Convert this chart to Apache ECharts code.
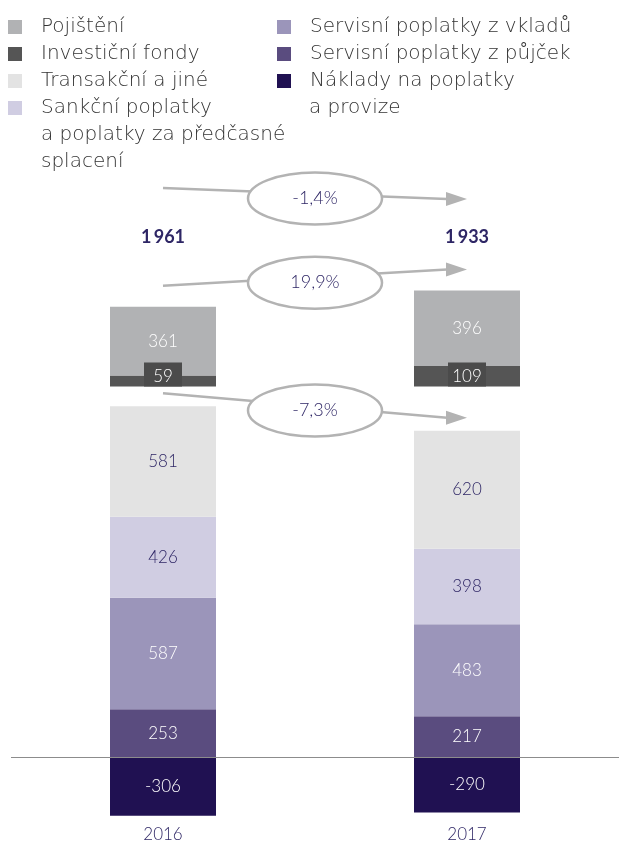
<!DOCTYPE html>
<html>
<head>
<meta charset="utf-8">
<script src="https://cdn.jsdelivr.net/npm/echarts@6/dist/echarts.min.js"></script>
<style>
  html, body { margin: 0; padding: 0; background: #fff; }
  #chart { width: 620px; height: 846px; }
</style>
</head>
<body>
<div id="chart"></div>
<script>
const years = ['2016', '2017'];
// legend names, one entry per printed line
const legendLines = [
  ['Pojištění'],
  ['Investiční fondy'],
  ['Transakční a jiné'],
  ['Sankční poplatky', 'a poplatky za předčasné', 'splacení'],
  ['Servisní poplatky z vkladů'],
  ['Servisní poplatky z půjček'],
  ['Náklady na poplatky', 'a provize']
];
const pojisteni = [361, 396];
const investicniFondy = [59, 109];
const transakcni = [581, 620];
const sankcni = [426, 398];
const servisniVklady = [587, 483];
const servisniPujcky = [253, 217];
const naklady = [-306, -290];
const changeLabels = ['-1,4%', '19,9%', '-7,3%'];
// the insurance / funds block sits on this level
const upperBase = 1950;

const colors = ['#b1b2b4', '#555555', '#e3e3e3', '#d0cde2', '#9b95ba', '#5a4c7f', '#201152'];
const navy = '#2e2665';
const font = 'Lato, "Open Sans", sans-serif';
const legendFont = '"DejaVu Sans", sans-serif';
const legendColor = '#333333';
const names = legendLines.map(l => l.join(' '));

const chart = echarts.init(document.getElementById('chart'));

function barSeries(idx, data, labelColor, extraLabel) {
  return {
    name: names[idx],
    type: 'bar',
    stack: 'total',
    barWidth: 106,
    data: data,
    itemStyle: {color: colors[idx]},
    label: Object.assign({
      show: true,
      position: 'inside',
      color: labelColor,
      fontSize: 17,
      fontWeight: 300,
      fontFamily: font
    }, extraLabel || {})
  };
}

const lowerSum = years.map((_, i) =>
  servisniPujcky[i] + servisniVklady[i] + sankcni[i] + transakcni[i]);
const spacer = years.map((_, i) => upperBase - lowerSum[i]);
const totals = years.map((_, i) =>
  lowerSum[i] + naklady[i] + investicniFondy[i] + pojisteni[i]);

const series = [
  barSeries(6, naklady, '#fff'),
  barSeries(5, servisniPujcky, '#fff'),
  barSeries(4, servisniVklady, '#fff'),
  barSeries(3, sankcni, navy),
  barSeries(2, transakcni, navy),
  {
    name: 'spacer',
    type: 'bar',
    stack: 'total',
    barWidth: 106,
    data: spacer,
    itemStyle: {color: 'transparent'},
    silent: true
  },
  barSeries(1, investicniFondy, '#fff', {
    position: 'insideBottom',
    distance: 0,
    backgroundColor: '#4b4b4b',
    width: 26,
    align: 'center',
    padding: [5, 6, 2, 6]
  }),
  barSeries(0, pojisteni, '#fff')
];

// zero line
series[0].markLine = {
  silent: true,
  symbol: 'none',
  label: {show: false},
  lineStyle: {color: '#8c8c8c', width: 1.2, type: 'solid'},
  data: [{yAxis: 0}]
};

function legendFor(list, left) {
  return {
    left: left,
    top: 17,
    padding: 0,
    orient: 'vertical',
    icon: 'rect',
    itemWidth: 14,
    itemHeight: 14,
    itemGap: 7,
    selectedMode: false,
    data: list,
    formatter: name => legendLines[names.indexOf(name)][0],
    textStyle: {
      fontSize: 20,
      fontWeight: 200,
      fontFamily: legendFont,
      color: legendColor,
      padding: [0, 0, 0, 14]
    }
  };
}

chart.setOption({
  animation: false,
  color: colors,
  grid: {left: 11, right: 1, top: 263, bottom: 22},
  legend: [legendFor(names.slice(0, 4), 8), legendFor(names.slice(4), 277)],
  xAxis: {
    type: 'category',
    data: years,
    axisLine: {show: false, onZero: false},
    axisTick: {show: false},
    axisLabel: {color: navy, fontSize: 17, fontWeight: 300, fontFamily: font, margin: 2}
  },
  yAxis: {
    type: 'value',
    min: -350,
    max: 2600,
    show: false
  },
  series: series
});

// annotations: totals, change arrows, continued legend lines
const xs = years.map(y => chart.convertToPixel({xAxisIndex: 0}, y));
const yOf = v => chart.convertToPixel({yAxisIndex: 0}, v);
const upperTop = years.map((_, i) => yOf(upperBase + investicniFondy[i] + pojisteni[i]));
const lowerTop = lowerSum.map(v => yOf(v));

const rows = [
  [188, 199],
  [upperTop[0] - 21, upperTop[1] - 21],
  [lowerTop[0] - 13, lowerTop[1] - 13]
];

const graphics = [];
const grey = '#b3b3b3';
rows.forEach((r, i) => {
  const cx = (xs[0] + xs[1]) / 2;
  const cy = (r[0] + r[1]) / 2 + 5;
  graphics.push({
    type: 'line', z: 10,
    shape: {x1: xs[0], y1: r[0], x2: xs[1] - 20, y2: r[1]},
    style: {stroke: grey, lineWidth: 2.5}
  });
  graphics.push({
    type: 'polygon', z: 10,
    shape: {points: [[xs[1] - 21, r[1] - 7], [xs[1], r[1]], [xs[1] - 21, r[1] + 7]]},
    style: {fill: grey}
  });
  graphics.push({
    type: 'ellipse', z: 11,
    shape: {cx: cx, cy: cy, rx: 67, ry: 26},
    style: {fill: '#fff', stroke: grey, lineWidth: 2.5}
  });
  graphics.push({
    type: 'text', z: 12, x: cx, y: cy,
    style: {
      text: changeLabels[i], fill: navy, fontSize: 18, fontWeight: 300,
      fontFamily: font, align: 'center', verticalAlign: 'middle'
    }
  });
});

totals.forEach((t, i) => {
  const txt = Math.floor(t / 1000) + '\u2009' + String(t % 1000).padStart(3, '0');
  graphics.push({
    type: 'text', x: xs[i], y: 237,
    style: {
      text: txt, fill: navy, fontSize: 18, fontWeight: 'bold',
      fontFamily: font, align: 'center', verticalAlign: 'middle'
    }
  });
});

legendLines.forEach((lines, idx) => {
  const col = idx < 4 ? 0 : 1;
  const row = col === 0 ? idx : idx - 4;
  lines.slice(1).forEach((line, k) => {
    graphics.push({
      type: 'text',
      x: col === 0 ? 41 : 309,
      y: 27 + 27 * (row + k + 1),
      style: {
        text: line, fill: legendColor, fontSize: 20, fontWeight: 200,
        fontFamily: legendFont, verticalAlign: 'middle'
      }
    });
  });
});

chart.setOption({graphic: graphics});
</script>
</body>
</html>
